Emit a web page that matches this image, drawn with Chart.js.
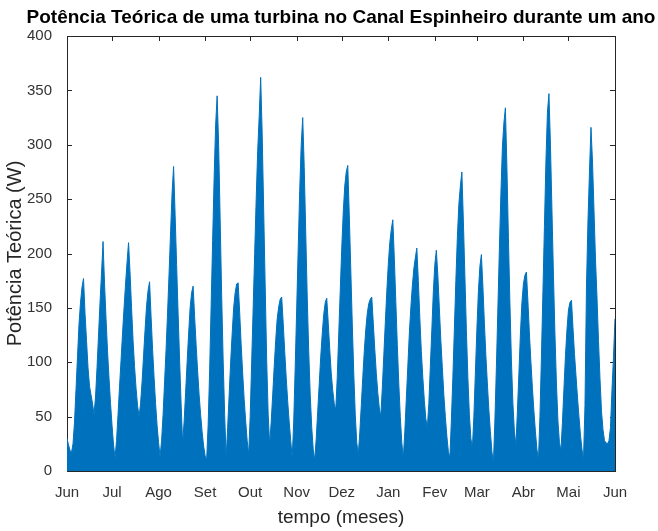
<!DOCTYPE html>
<html>
<head>
<meta charset="utf-8">
<script src="https://cdn.jsdelivr.net/npm/chart.js@4/dist/chart.umd.min.js"></script>
<style>
	html, body { margin: 0; padding: 0; background: #ffffff; }
	#wrap { width: 658px; height: 531px; }
</style>
</head>
<body>
<div id="wrap"><canvas id="powerchart" width="658" height="531"></canvas></div>
<script>
// month tick positions (day of the year, starting 1 June) and labels
var monthTicks = [0, 30, 61, 92, 122, 153, 183, 214, 245, 273, 304, 334, 365];
var monthLabels = ['Jun', 'Jul', 'Ago', 'Set', 'Out', 'Nov', 'Dez', 'Jan', 'Fev', 'Mar', 'Abr', 'Mai', 'Jun'];

// daily peak power (W), one array per month
var potJun = [30,24,19,17,25,45,75,105,135,155,169,177,145,120,95,78,70,62,52,68,95,125,155,182,211,172,140,110,85,62];
var potJul = [42,24,12,28,52,78,102,127,150,172,192,210,182,150,120,96,76,60,50,62,82,106,130,152,166,174,142,112,86,62,42];
var potAgo = [26,13,28,52,82,112,146,182,220,256,280,236,190,145,102,62,26,45,72,100,126,150,164,170,142,116,92,70,52,36,23];
var potSet = [14,10,42,92,152,212,270,318,345,300,232,162,102,52,12,40,70,100,126,150,164,172,173,146,116,90,66,46,28,15];
var potOut = [50,100,150,200,250,294,326,362,310,240,170,102,52,24,45,70,96,120,140,151,158,160,136,110,86,64,45,28,12,45,96];
var potNov = [150,205,258,300,325,280,220,160,110,70,40,20,10,30,55,80,105,126,144,155,159,136,112,90,74,62,56,86,126,166];
var potDez = [205,238,262,275,281,236,186,136,90,52,26,15,35,60,86,110,130,145,154,158,160,136,112,90,72,58,50,76,106,136,165];
var potJan = [190,210,222,231,196,156,116,80,50,26,12,36,66,96,126,150,170,186,196,205,175,141,110,86,65,48,40,62,96,130,165];
var potFev = [190,203,180,150,120,95,70,50,32,18,12,46,86,130,175,215,245,262,275,230,180,130,86,52,30,21,50,90];
var potMar = [130,165,188,199,170,136,106,80,56,36,18,7,46,96,150,205,255,298,320,334,280,215,155,102,62,36,24,55,90,126,155];
var potAbr = [172,180,183,156,126,100,76,55,36,20,10,50,105,165,225,285,330,347,300,240,180,126,80,46,26,19,45,76,106,130];
var potMai = [148,155,157,132,108,88,68,50,33,20,10,60,170,230,275,316,285,240,195,160,120,85,55,38,28,26,25,28,40,75,105];
var potJunEnd = [140];

var yTicks = [0, 50, 100, 150, 200, 250, 300, 350, 400];

var allValues = [].concat(potJun, potJul, potAgo, potSet, potOut, potNov, potDez,
	potJan, potFev, potMar, potAbr, potMai, potJunEnd);
var points = allValues.map(function (v, i) { return { x: i, y: v }; });

var axisColor = '#262626';

// MATLAB style box with inward tick marks, drawn below the data
var boxPlugin = {
	id: 'boxPlugin',
	afterLayout: function (chart) {
		// center the title over the plot area, not the whole canvas
		var t = chart.titleBlock;
		var a = chart.chartArea;
		if (t && a) {
			var mid = (a.left + a.right) / 2;
			t.left = mid - 325;
			t.right = mid + 325;
		}
	},
	beforeDatasetsDraw: function (chart) {
		var ctx = chart.ctx;
		var a = chart.chartArea;
		var xs = chart.scales.x;
		var ys = chart.scales.y;
		var len = 5;
		ctx.save();
		ctx.strokeStyle = axisColor;
		ctx.lineWidth = 1;
		ctx.strokeRect(Math.round(a.left) + 0.5, Math.round(a.top) + 0.5,
			Math.round(a.right - a.left), Math.round(a.bottom - a.top));
		ctx.beginPath();
		monthTicks.forEach(function (t) {
			var px = Math.round(xs.getPixelForValue(t)) + 0.5;
			ctx.moveTo(px, a.top);
			ctx.lineTo(px, a.top + len);
			ctx.moveTo(px, a.bottom);
			ctx.lineTo(px, a.bottom - len);
		});
		yTicks.forEach(function (t) {
			var py = Math.round(ys.getPixelForValue(t)) + 0.5;
			ctx.moveTo(a.left, py);
			ctx.lineTo(a.left + len, py);
			ctx.moveTo(a.right, py);
			ctx.lineTo(a.right - len, py);
		});
		ctx.stroke();
		ctx.restore();
	}
};

Chart.defaults.font.family = '"Liberation Sans", Arial, Helvetica, sans-serif';
Chart.defaults.color = axisColor;

var ctx = document.getElementById('powerchart').getContext('2d');
var powerChart = new Chart(ctx, {
	type: 'line',
	data: {
		datasets: [{
			label: 'Potência Teórica',
			data: points,
			borderColor: '#0072BD',
			backgroundColor: '#0072BD',
			borderWidth: 1,
			pointRadius: 0,
			tension: 0,
			fill: 'origin'
		}]
	},
	options: {
		responsive: false,
		animation: false,
		layout: {
			padding: { left: 0, right: 43, top: 0, bottom: 0 }
		},
		plugins: {
			legend: { display: false },
			tooltip: { enabled: false },
			title: {
				display: true,
				text: 'Potência Teórica de uma turbina no Canal Espinheiro durante um ano',
				color: '#000000',
				font: { size: 19, weight: 'bold' },
				padding: { top: 6.6, bottom: 6.6 }
			}
		},
		scales: {
			x: {
				type: 'linear',
				min: 0,
				max: 365,
				grid: { display: false },
				border: { display: false },
				afterBuildTicks: function (scale) {
					scale.ticks = monthTicks.map(function (v) { return { value: v }; });
				},
				afterFit: function (scale) {
					scale.height = 60;
				},
				ticks: {
					padding: 5,
					maxRotation: 0,
					autoSkip: false,
					color: '#333333',
					font: { size: 15 },
					callback: function (value) {
						var i = monthTicks.indexOf(value);
						return i >= 0 ? monthLabels[i] : '';
					}
				},
				title: {
					display: true,
					text: 'tempo (meses)',
					color: axisColor,
					font: { size: 19 },
					padding: { top: 0, bottom: 2 }
				}
			},
			y: {
				min: 0,
				max: 400,
				grid: { display: false },
				border: { display: false },
				afterBuildTicks: function (scale) {
					scale.ticks = yTicks.map(function (v) { return { value: v }; });
				},
				afterFit: function (scale) {
					scale.width = 67;
				},
				ticks: {
					padding: 7,
					color: '#333333',
					font: { size: 15 }
				},
				title: {
					display: true,
					text: 'Potência Teórica (W)',
					color: axisColor,
					font: { size: 20 },
					padding: { top: 3, bottom: 0 }
				}
			}
		}
	},
	plugins: [boxPlugin]
});
</script>
</body>
</html>
